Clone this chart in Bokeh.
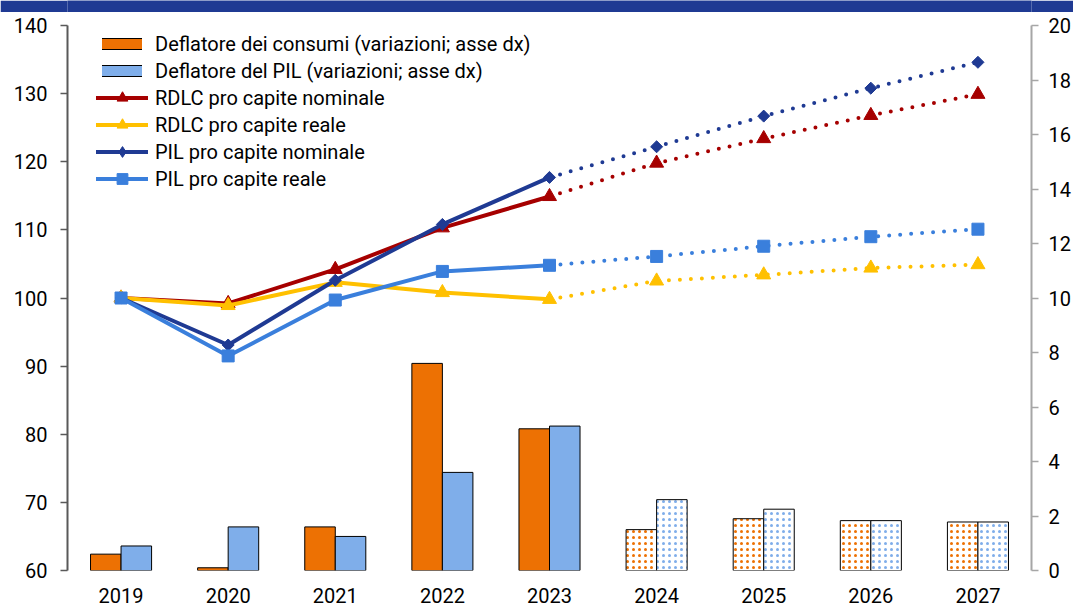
from bokeh.plotting import figure
from bokeh.layouts import column
from bokeh.models import (ColumnDataSource, Range1d, FactorRange, LinearAxis,
                          FixedTicker, Legend, LegendItem)
from bokeh.transform import dodge
from bokeh.embed import file_html
from bokeh.resources import INLINE
import numpy as np

# ---- data -------------------------------------------------------------
years = ["2019", "2020", "2021", "2022", "2023", "2024", "2025", "2026", "2027"]
n_hist = 5  # 2019-2023 observed, 2024-2027 projections

# price deflators, % changes (right axis)
defl_consumi = [0.6, 0.1, 1.6, 7.6, 5.2, 1.5, 1.9, 1.83, 1.78]
defl_pil = [0.9, 1.6, 1.25, 3.6, 5.3, 2.6, 2.25, 1.83, 1.78]

# per-capita indices, 2019 = 100 (left axis)
rdlc_nom = [100, 99.2, 104.2, 110.3, 114.9, 119.8, 123.4, 126.8, 129.9]
rdlc_real = [100, 98.9, 102.3, 100.8, 99.8, 102.5, 103.4, 104.4, 104.9]
pil_nom = [100, 93.1, 102.6, 110.8, 117.7, 122.2, 126.7, 130.8, 134.6]
pil_real = [100, 91.5, 99.7, 103.9, 104.8, 106.1, 107.6, 109.0, 110.1]

left_ticks = [60, 70, 80, 90, 100, 110, 120, 130, 140]
right_ticks = [0, 2, 4, 6, 8, 10, 12, 14, 16, 18, 20]

# ---- style --------------------------------------------------------------
FONT = "Roboto"
FS = "20px"
NAVY = "#1F3A93"
ORANGE = "#ED7103"
LBLUE = "#7FAEEA"
RED = "#A60000"
YELLOW = "#FFC000"
MBLUE = "#3A7FDC"

# ---- header band ----------------------------------------------------------
band = figure(width=1073, height=12, toolbar_location=None, output_backend="svg",
              x_axis_type=None, y_axis_type=None, min_border=0,
              x_range=Range1d(0, 1), y_range=Range1d(0, 1))
band.background_fill_color = NAVY
band.border_fill_color = NAVY
band.outline_line_color = None
band.xgrid.visible = False
band.ygrid.visible = False

# ---- main chart ---------------------------------------------------------------
p = figure(width=1073, height=593, toolbar_location=None, output_backend="svg",
           x_range=FactorRange(*years), y_range=Range1d(60, 140),
           min_border_left=67, min_border_right=40,
           min_border_top=13, min_border_bottom=34)
p.extra_y_ranges = {"right": Range1d(0, 20)}
p.xgrid.visible = False
p.ygrid.visible = False
p.outline_line_color = None
p.background_fill_color = "white"
p.border_fill_color = "white"

# left axis
yax = p.yaxis[0]
yax.ticker = FixedTicker(ticks=left_ticks)
yax.axis_line_color = "#595959"
yax.axis_line_width = 2
yax.major_tick_line_color = "#595959"
yax.major_tick_line_width = 1.5
yax.major_tick_out = 7
yax.major_tick_in = 0
yax.minor_tick_line_color = None
yax.major_label_standoff = 13
yax.major_label_text_font = FONT
yax.major_label_text_font_size = FS
yax.major_label_text_color = "black"

# right axis
rax = LinearAxis(y_range_name="right", ticker=FixedTicker(ticks=right_ticks))
rax.axis_line_color = "#A6A6A6"
rax.axis_line_width = 2
rax.major_tick_line_color = "#A6A6A6"
rax.major_tick_line_width = 1.5
rax.major_tick_out = 7
rax.major_tick_in = 0
rax.minor_tick_line_color = None
rax.major_label_standoff = 10
rax.major_label_text_font = FONT
rax.major_label_text_font_size = FS
rax.major_label_text_color = "black"
p.add_layout(rax, "right")

# bottom axis
xax = p.xaxis[0]
xax.axis_line_color = None
xax.major_tick_line_color = None
xax.minor_tick_line_color = None
xax.major_label_standoff = 11
xax.major_label_text_font = FONT
xax.major_label_text_font_size = FS
xax.major_label_text_color = "black"

# ---- bars -------------------------------------------------------------------------
OFF = 0.1425
BW = 0.285
hist = ColumnDataSource(dict(years=years[:n_hist], c=defl_consumi[:n_hist],
                             g=defl_pil[:n_hist]))
proj = ColumnDataSource(dict(years=years[n_hist:], c=defl_consumi[n_hist:],
                             g=defl_pil[n_hist:]))

p.vbar(x=dodge("years", -OFF, range=p.x_range), top="c", bottom=0, width=BW,
       source=hist, y_range_name="right", fill_color=ORANGE,
       line_color="black", line_width=1)
p.vbar(x=dodge("years", OFF, range=p.x_range), top="g", bottom=0, width=BW,
       source=hist, y_range_name="right", fill_color=LBLUE,
       line_color="black", line_width=1)
p.vbar(x=dodge("years", -OFF, range=p.x_range), top="c", bottom=0, width=BW,
       source=proj, y_range_name="right", fill_color="white",
       hatch_pattern="dot", hatch_color=ORANGE, hatch_scale=6, hatch_weight=1,
       line_color="black", line_width=1)
p.vbar(x=dodge("years", OFF, range=p.x_range), top="g", bottom=0, width=BW,
       source=proj, y_range_name="right", fill_color="white",
       hatch_pattern="dot", hatch_color=LBLUE, hatch_scale=6, hatch_weight=1,
       line_color="black", line_width=1)

# ---- lines ---------------------------------------------------------------------------
def series(values, color, marker, size, angle=0.0):
    solid = p.line(x=years[:n_hist], y=values[:n_hist], line_color=color,
                   line_width=4, line_join="round", line_cap="round")
    p.line(x=years[n_hist - 1:], y=values[n_hist - 1:], line_color=color,
           line_width=4, line_dash="0 11", line_cap="round")
    pts = p.scatter(x=years, y=values, marker=marker, size=size, angle=angle,
                    fill_color=color, line_color=color)
    return solid, pts

r_nom = series(rdlc_nom, RED, "triangle", 14)
r_real = series(rdlc_real, YELLOW, "triangle", 14)
g_nom = series(pil_nom, NAVY, "square", 8.5, np.pi / 4)
g_real = series(pil_real, MBLUE, "square", 12)

# ---- legend keys ----------------------------------------------------------------------------
# key-only renderers: a single point below the visible range, so nothing shows in the
# plot area, while the legend draws a framed colour block / a diamond key from them
key_src = ColumnDataSource(dict(x=years[:1], y=[0]))

def swatch(fill):
    edge = p.line(x="x", y="y", source=key_src, line_color="black",
                  line_width=12, line_cap="square")
    face = p.line(x="x", y="y", source=key_src, line_color=fill,
                  line_width=10, line_cap="square")
    return [edge, face]

diamond_key = p.scatter(x="x", y="y", source=key_src, marker="diamond",
                        fill_color=NAVY, line_color=NAVY)

leg_bars = Legend(items=[
    LegendItem(label="Deflatore dei consumi (variazioni; asse dx)",
               renderers=swatch(ORANGE)),
    LegendItem(label="Deflatore del PIL (variazioni; asse dx)",
               renderers=swatch(LBLUE)),
], location=(35, 486), glyph_width=40, glyph_height=27, label_height=27,
   spacing=0, padding=0, margin=0, label_standoff=13)

leg_lines = Legend(items=[
    LegendItem(label="RDLC pro capite nominale", renderers=list(r_nom)),
    LegendItem(label="RDLC pro capite reale", renderers=list(r_real)),
    LegendItem(label="PIL pro capite nominale", renderers=[g_nom[0], diamond_key]),
    LegendItem(label="PIL pro capite reale", renderers=list(g_real)),
], location=(29, 378), glyph_width=52, glyph_height=27, label_height=27,
   spacing=0, padding=0, margin=0, label_standoff=7)

for leg in (leg_bars, leg_lines):
    leg.background_fill_alpha = 0
    leg.border_line_color = None
    leg.label_text_font = FONT
    leg.label_text_font_size = FS
    leg.label_text_color = "black"
    p.add_layout(leg, "center")

layout = column(band, p, spacing=0)

with open("out.html", "w") as f:
    f.write(file_html(layout, INLINE))
